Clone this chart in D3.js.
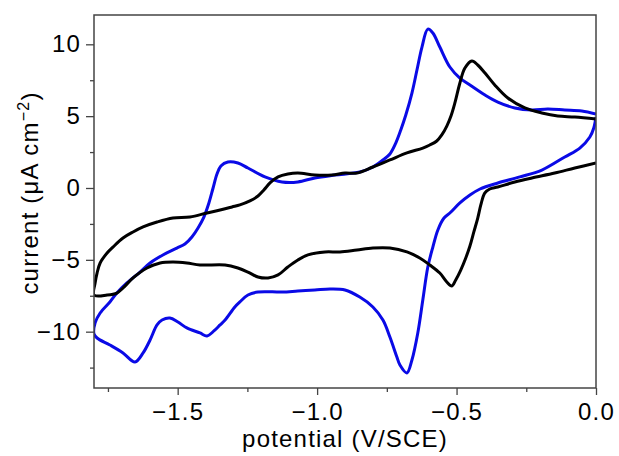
<!DOCTYPE html>
<html>
<head>
<meta charset="utf-8">
<script src="https://cdn.jsdelivr.net/npm/d3@7"></script>
<style>
  html, body { margin: 0; padding: 0; background: #fff; }
  svg { display: block; font-family: "Liberation Sans", Arial, sans-serif; }
</style>
</head>
<body>
<svg id="chart" width="619" height="456"></svg>
<script>
// ---- data (potential V vs SCE, current µA cm^-2) ----
const xTicks = [-1.5, -1.0, -0.5, 0.0];
const xTickLabels = ["\u22121.5", "\u22121.0", "\u22120.5", "0.0"];
const xMinorTicks = [-1.75, -1.25, -0.75, -0.25];
const yTicks = [10, 5, 0, -5, -10];
const yTickLabels = ["10", "5", "0", "\u22125", "\u221210"];
const yMinorTicks = [7.5, 2.5, -2.5, -7.5, -12.5];

const bluePotential = [0.0,-0.008,-0.022,-0.058,-0.112,-0.194,-0.273,-0.352,-0.416,-0.452,-0.488,-0.524,-0.545,-0.567,-0.585,-0.603,-0.621,-0.639,-0.660,-0.678,-0.703,-0.714,-0.739,-0.764,-0.800,-0.847,-0.900,-0.954,-1.008,-1.069,-1.126,-1.212,-1.248,-1.277,-1.295,-1.330,-1.348,-1.370,-1.395,-1.420,-1.467,-1.499,-1.528,-1.556,-1.574,-1.599,-1.624,-1.653,-1.696,-1.743,-1.789,-1.800,-1.796,-1.778,-1.743,-1.718,-1.682,-1.635,-1.599,-1.553,-1.503,-1.474,-1.449,-1.427,-1.406,-1.388,-1.373,-1.359,-1.345,-1.320,-1.284,-1.248,-1.187,-1.126,-1.069,-1.008,-0.936,-0.847,-0.800,-0.764,-0.739,-0.718,-0.700,-0.682,-0.660,-0.642,-0.624,-0.603,-0.585,-0.560,-0.524,-0.488,-0.452,-0.398,-0.352,-0.291,-0.230,-0.173,-0.112,-0.051,0.0];
const blueCurrent = [4.94,4.18,3.55,2.78,2.16,1.25,0.77,0.35,-0.07,-0.49,-1.04,-1.74,-2.09,-2.92,-4.11,-5.50,-7.79,-10.09,-11.97,-12.87,-12.32,-11.76,-10.37,-9.19,-8.28,-7.59,-7.10,-7.03,-7.10,-7.17,-7.24,-7.24,-7.45,-7.93,-8.28,-9.19,-9.53,-9.95,-10.30,-10.09,-9.74,-9.33,-9.05,-9.19,-9.53,-10.58,-11.48,-12.11,-11.48,-10.93,-10.44,-10.16,-9.39,-8.70,-7.93,-7.31,-6.61,-5.85,-5.22,-4.66,-4.18,-3.90,-3.41,-2.78,-2.02,-1.04,0.0,0.97,1.53,1.81,1.74,1.39,0.77,0.42,0.42,0.70,0.90,1.11,1.46,1.95,2.37,3.13,4.04,5.08,6.61,8.21,9.81,11.06,10.79,9.81,8.42,7.65,7.17,6.47,5.98,5.57,5.43,5.50,5.43,5.36,5.15];

const blackPotential = [0.0,-0.076,-0.148,-0.230,-0.291,-0.352,-0.381,-0.399,-0.413,-0.424,-0.438,-0.452,-0.467,-0.485,-0.503,-0.517,-0.535,-0.560,-0.596,-0.632,-0.678,-0.739,-0.800,-0.857,-0.918,-0.972,-1.033,-1.069,-1.105,-1.140,-1.176,-1.212,-1.248,-1.284,-1.330,-1.420,-1.467,-1.517,-1.563,-1.610,-1.660,-1.696,-1.718,-1.753,-1.800,-1.796,-1.789,-1.778,-1.753,-1.732,-1.696,-1.660,-1.624,-1.574,-1.517,-1.456,-1.395,-1.348,-1.305,-1.277,-1.241,-1.212,-1.191,-1.169,-1.140,-1.105,-1.069,-1.008,-0.947,-0.900,-0.857,-0.800,-0.739,-0.678,-0.621,-0.596,-0.571,-0.553,-0.535,-0.520,-0.506,-0.488,-0.470,-0.445,-0.424,-0.398,-0.363,-0.316,-0.255,-0.194,-0.137,-0.076,0.0];
const blackCurrent = [1.74,1.39,1.04,0.70,0.42,0.07,-0.07,-0.35,-1.18,-2.09,-3.06,-4.04,-4.87,-5.71,-6.40,-6.82,-6.54,-5.92,-5.36,-4.87,-4.45,-4.18,-4.18,-4.31,-4.45,-4.45,-4.66,-5.01,-5.50,-6.05,-6.26,-6.19,-5.85,-5.57,-5.36,-5.36,-5.22,-5.15,-5.22,-5.57,-6.26,-6.96,-7.31,-7.45,-7.45,-6.61,-5.92,-5.22,-4.52,-4.11,-3.48,-3.06,-2.71,-2.37,-2.09,-2.02,-1.74,-1.53,-1.32,-1.18,-0.90,-0.56,-0.14,0.35,0.77,0.97,1.04,0.90,0.90,1.04,1.04,1.46,1.95,2.44,2.78,2.99,3.27,3.69,4.31,5.01,5.92,7.31,8.35,8.84,8.56,8.00,7.17,6.26,5.57,5.22,5.01,4.94,4.80];

// ---- layout ----
const svg = d3.select("#chart");
const pL = 94, pT = 15, pR = 596, pB = 388;
const FONT = '"Liberation Sans", Arial, sans-serif';

const x = d3.scaleLinear().domain([-1.8, 0.0]).range([pL, pR]);
const y = d3.scaleLinear().domain([-13.92, 12.04]).range([pB, pT]);

svg.append("defs").append("clipPath").attr("id", "clip")
  .append("rect").attr("x", pL).attr("y", pT)
  .attr("width", pR - pL).attr("height", pB - pT);

const line = d3.line()
  .x(d => x(d[0])).y(d => y(d[1]))
  .curve(d3.curveCatmullRom.alpha(0.5));

const plot = svg.append("g").attr("clip-path", "url(#clip)");
plot.append("path")
  .datum(bluePotential.map((v, i) => [v, blueCurrent[i]]))
  .attr("d", line).attr("fill", "none")
  .attr("stroke", "#0a0ae6").attr("stroke-width", 3)
  .attr("stroke-linejoin", "round");
plot.append("path")
  .datum(blackPotential.map((v, i) => [v, blackCurrent[i]]))
  .attr("d", line).attr("fill", "none")
  .attr("stroke", "#000").attr("stroke-width", 3)
  .attr("stroke-linejoin", "round");

// frame
svg.append("rect").attr("x", pL).attr("y", pT)
  .attr("width", pR - pL).attr("height", pB - pT)
  .attr("fill", "none").attr("stroke", "#444").attr("stroke-width", 1.5);

// axes
const xAxis = svg.append("g").attr("transform", `translate(0,${pB})`)
  .call(d3.axisBottom(x).tickValues(xTicks).tickSize(7).tickPadding(8)
    .tickFormat((d, i) => xTickLabels[i]));
const xMinor = svg.append("g").attr("transform", `translate(0,${pB})`)
  .call(d3.axisBottom(x).tickValues(xMinorTicks).tickSize(4).tickFormat(""));
const yAxis = svg.append("g").attr("transform", `translate(${pL},0)`)
  .call(d3.axisLeft(y).tickValues(yTicks).tickSize(8).tickPadding(5)
    .tickFormat((d, i) => yTickLabels[i]));
const yMinor = svg.append("g").attr("transform", `translate(${pL},0)`)
  .call(d3.axisLeft(y).tickValues(yMinorTicks).tickSize(4).tickFormat(""));

[xAxis, xMinor, yAxis, yMinor].forEach(g => {
  g.select(".domain").remove();
  g.selectAll(".tick line").attr("stroke", "#444").attr("stroke-width", 1.3);
  g.selectAll(".tick text").attr("fill", "#000")
    .style("font-family", FONT)
    .style("font-size", "24px")
    .style("letter-spacing", "1.2px");
});

// axis titles
svg.append("text")
  .attr("x", (pL + pR) / 2).attr("y", 447)
  .attr("text-anchor", "middle")
  .style("font-size", "24px").style("letter-spacing", "1.2px")
  .attr("fill", "#000")
  .text("potential (V/SCE)");

const yt = svg.append("text")
  .attr("transform", `translate(38,193) rotate(-90)`)
  .attr("text-anchor", "middle")
  .style("font-size", "24px").style("letter-spacing", "1.2px")
  .attr("fill", "#000");
yt.append("tspan").text("current (\u03bcA cm");
yt.append("tspan").attr("dy", -9).style("font-size", "16px").text("\u22122");
yt.append("tspan").attr("dy", 9).text(")");
</script>
</body>
</html>
